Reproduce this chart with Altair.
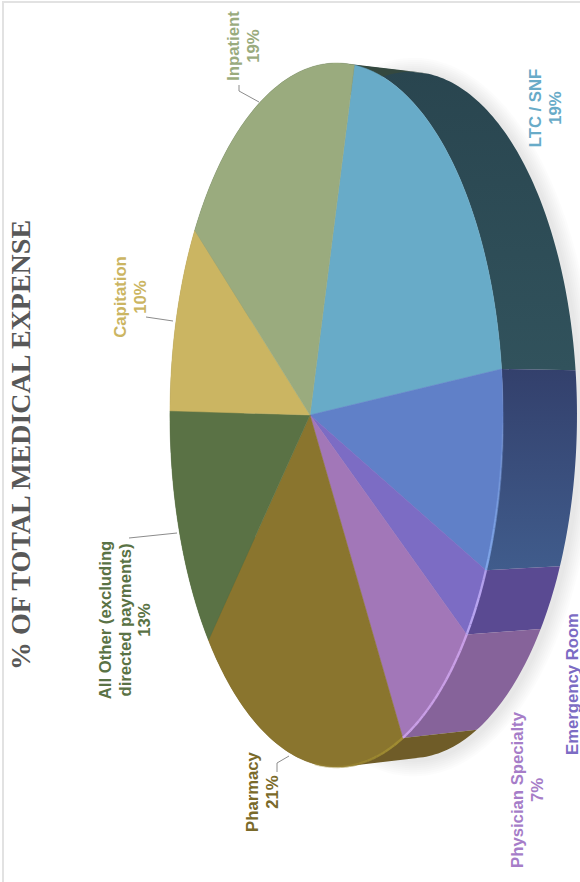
import math
import altair as alt

# Share of total medical expense, clockwise from the Inpatient / LTC boundary
CATEGORIES = ["LTC / SNF", "Outpatient", "Emergency Room", "Physician Specialty",
              "Pharmacy", "All Other", "Capitation", "Inpatient"]
SHARES = [19, 8, 3, 7, 21, 13, 10, 19]
TOP_COLORS = ["#68abc8", "#6080c8", "#7c6cc4", "#a277b8", "#8a752e", "#5a7245", "#cbb562", "#9aab7e"]
SIDE_STOPS = [("#29454f", "#31525c"), ("#33406c", "#405c8c"), ("#5a4a92", "#5a4a92"),
              ("#86639a", "#86639a"), ("#6f5c28", "#6f5c28"), ("#4a5a38", "#4a5a38"),
              ("#8a7b42", "#8a7b42"), ("#34483f", "#34483f")]
RIM_COLORS = ["#86aef2", "#86aef2", "#b7a4f0", "#c99fe6", "#a08c32", None, None, None]

LABEL_TEXT = ["Inpatient\n19%", "LTC / SNF\n19%", "Capitation\n10%",
              "All Other (excluding\ndirected payments)\n13%", "Pharmacy\n21%",
              "Physician Specialty\n7%", "Emergency Room"]
LABEL_X = [234, 536, 121, 106, 253, 518, 573]
LABEL_Y = [46, 108, 297, 620, 792, 790, 684]
LABEL_COLORS = ["#9aab7e", "#68abc8", "#cbb562", "#5a7245", "#7a6a2a", "#a67dc8", "#7c6cc4"]

LEADERS = [[(239, 85), (239, 91), (259, 102)],
           [(146, 317), (173, 321)],
           [(129, 538), (177, 533)],
           [(289, 756), (277, 763), (277, 772)]]

TITLE = "% OF TOTAL MEDICAL EXPENSE"

# Tilted-disc projection of the pie, centred on the apex of the wedges
APEX = [310, 415]
START_DEG = 15.2
K, G, B = 162.3, 0.159, 347.5
DEPTH_X, DEPTH_Y = 74, 0.975

WIDTH, HEIGHT = 580, 882


def rim(deg):
    t = math.radians(deg)
    p, q = math.sin(t), -math.cos(t)
    w = 1 - G * p
    return [K * p / w, B * q / w]


def lower(pt):
    return [pt[0] + DEPTH_X, pt[1] * DEPTH_Y]


def arc(a0, a1):
    n = max(2, int(abs(a1 - a0) / 1.0))
    return [rim(a0 + (a1 - a0) * i / n) for i in range(n + 1)]


def wound(ringpts):
    # Give every strip the same winding so overlaps stay filled
    area = sum(a[0] * b[1] - b[0] * a[1] for a, b in zip(ringpts[:-1], ringpts[1:]))
    return ringpts if area >= 0 else ringpts[::-1]


def feature(kind, coords, **props):
    return {"type": "Feature", "properties": props,
            "geometry": {"type": kind, "coordinates": coords}}


def shape(features, **mark):
    return alt.Chart(alt.Data(values=features)).mark_geoshape(**mark).project(
        type="identity", scale=1, translate=APEX)


bounds = [START_DEG]
for s in SHARES:
    bounds.append(bounds[-1] + s * 3.6)

layers = []

# Soft shadow around the lower face of the disc
ring = arc(0, 360)
for grow in range(16, 0, -2):
    sx = 1 + grow / 166.5
    sy = 1 + grow / 343
    cx = (K * 1 / (1 - G) - K * 1 / (1 + G)) / 2 + DEPTH_X
    pts = [[cx + 3 + (p[0] + DEPTH_X - cx) * sx, (p[1] * DEPTH_Y + 2) * sy] for p in ring]
    layers.append(shape([feature("Polygon", [pts])], fill="#707070", opacity=0.025))

# Side wall, one band per wedge, swept as overlapping strips so the ends close over the rim
for i, (a0, a1) in enumerate(zip(bounds[:-1], bounds[1:])):
    edge = arc(a0, a1)
    strips = []
    for p, m, q in zip(edge[:-2], edge[1:-1], edge[2:]):
        strips.append([wound([p, m, q, lower(q), lower(m), lower(p), p])])
    grad = alt.Gradient(gradient="linear", x1=0, y1=0, x2=0, y2=1,
                        stops=[alt.GradientStop(color=SIDE_STOPS[i][0], offset=0),
                               alt.GradientStop(color=SIDE_STOPS[i][1], offset=1)])
    layers.append(shape([feature("MultiPolygon", strips)], fill=grad))

# Top face wedges
wedges = []
for i, (a0, a1) in enumerate(zip(bounds[:-1], bounds[1:])):
    poly = [[0, 0]] + arc(a0, a1) + [[0, 0]]
    wedges.append(feature("Polygon", [poly], name=CATEGORIES[i], share=SHARES[i], fill=TOP_COLORS[i]))
layers.append(shape(wedges, strokeWidth=0.5).encode(
    fill=alt.Color("properties.fill:N", scale=None),
    stroke=alt.Color("properties.fill:N", scale=None)))

# Bevel highlight along the front of the rim
bevel = []
for i, (a0, a1) in enumerate(zip(bounds[:-1], bounds[1:])):
    if RIM_COLORS[i] is None:
        continue
    a = a0
    while a < a1 and a < 178:
        b = min(a + 1.5, a1)
        if a >= 88:
            fade = min(1.0, (a - 88) / 28)
            if a > 152:
                fade = max(0.35, 1 - (a - 152) / 30)
            bevel.append(feature("LineString", arc(a, b), stroke=RIM_COLORS[i], fade=fade))
        a = b
layers.append(shape(bevel, filled=False, strokeWidth=2.4).encode(
    stroke=alt.Color("properties.stroke:N", scale=None),
    opacity=alt.Opacity("properties.fade:Q", scale=None)))

# Leader lines
leaders = [{"leader": i, "step": j, "x": p[0], "y": p[1]}
           for i, line in enumerate(LEADERS) for j, p in enumerate(line)]
layers.append(alt.Chart(alt.Data(values=leaders)).mark_line(
    color="#8c8c8c", strokeWidth=1).encode(
    x=alt.X("x:Q", scale=None, axis=None),
    y=alt.Y("y:Q", scale=None, axis=None),
    detail="leader:N", order="step:Q"))

# Wedge labels, rotated with the rest of the page
labels = [{"text": t, "x": x, "y": y, "color": c}
          for t, x, y, c in zip(LABEL_TEXT, LABEL_X, LABEL_Y, LABEL_COLORS)]
layers.append(alt.Chart(alt.Data(values=labels)).mark_text(
    angle=270, align="center", baseline="middle", font="Liberation Sans",
    fontWeight="bold", fontSize=16.7, lineBreak="\n", lineHeight=19.5).encode(
    x=alt.X("x:Q", scale=None, axis=None),
    y=alt.Y("y:Q", scale=None, axis=None),
    text="text:N",
    color=alt.Color("color:N", scale=None)))

# Page title
layers.append(alt.Chart(alt.Data(values=[{"t": TITLE}])).mark_text(
    angle=270, align="center", baseline="middle", font="Liberation Serif",
    fontWeight="bold", fontSize=28, color="#585858").encode(
    x=alt.value(22), y=alt.value(445), text="t:N"))

# Page frame, left and top edges only
layers.append(alt.Chart(alt.Data(values=[{"a": 0}])).mark_rule(
    color="#e2e2e2", strokeWidth=2).encode(
    x=alt.value(3), y=alt.value(1), y2=alt.value(HEIGHT)))
layers.append(alt.Chart(alt.Data(values=[{"a": 0}])).mark_rule(
    color="#e2e2e2", strokeWidth=2).encode(
    y=alt.value(2), x=alt.value(3), x2=alt.value(WIDTH)))

chart = alt.layer(*layers).properties(
    width=WIDTH, height=HEIGHT, padding=0, autosize=alt.AutoSizeParams(type="none"),
    background="white"
).configure_view(stroke=None)

chart.save("out.html", embed_options={"renderer": "svg", "actions": False})
